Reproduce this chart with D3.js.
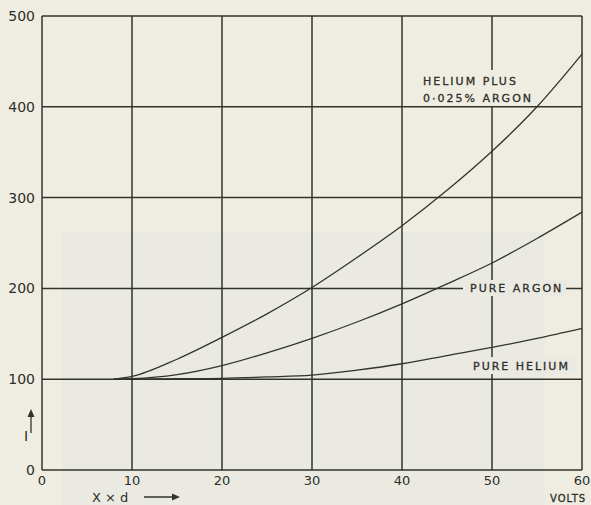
<!DOCTYPE html>
<html>
<head>
<meta charset="utf-8">
<script src="https://cdn.jsdelivr.net/npm/d3@7"></script>
<style>
  body { margin: 0; background: #efede2; }
  svg { display: block; }
  .tick-label { font-family: "DejaVu Sans", sans-serif; font-size: 14px; fill: #2e2e2a; }
  .curve-label { font-family: "DejaVu Sans", sans-serif; font-size: 11px; letter-spacing: 2px; fill: #2e2e2a; stroke: #2e2e2a; stroke-width: 0.3px; }
</style>
</head>
<body>
<div id="chart"></div>
<script>
/* CONSTANTS AND GLOBALS */
const width = 591,
  height = 505,
  margin = { top: 16, bottom: 35, left: 42, right: 9 };

const ink = "#33332e";
const paper = "#efede2";
const patch = "#eaeae2";

/* DATA */
const xValues = [8, 10, 15, 20, 25, 30, 35, 40, 45, 50, 55, 60];
const heliumArgon = [100, 103, 122, 146, 172, 201, 234, 269, 308, 351, 400, 458];
const pureArgon = [100, 100.5, 105, 115, 129, 145, 163, 183, 205, 228, 255, 284];
const pureHelium = [100, 100, 100.5, 101, 102.5, 104.5, 110, 117, 126, 135, 145, 156];

const xTicks = [0, 10, 20, 30, 40, 50, 60];
const yTicks = [0, 100, 200, 300, 400, 500];

const svg = d3.select("#chart")
  .append("svg")
  .attr("width", width)
  .attr("height", height);

svg.append("rect")
  .attr("width", width)
  .attr("height", height)
  .attr("fill", paper);

// slightly greyer patch from the scan
svg.append("rect")
  .attr("x", 62).attr("y", 232).attr("width", 483).attr("height", 273)
  .attr("fill", patch);

const xScale = d3.scaleLinear()
  .domain([0, 60])
  .range([margin.left, width - margin.right]);

const yScale = d3.scaleLinear()
  .domain([0, 500])
  .range([height - margin.bottom, margin.top]);

// grid
svg.append("g")
  .selectAll("line")
  .data(xTicks)
  .join("line")
  .attr("x1", d => xScale(d)).attr("x2", d => xScale(d))
  .attr("y1", yScale(0)).attr("y2", yScale(500))
  .attr("stroke", ink)
  .attr("stroke-width", 1.5);

svg.append("g")
  .selectAll("line")
  .data(yTicks)
  .join("line")
  .attr("x1", xScale(0)).attr("x2", xScale(60))
  .attr("y1", d => yScale(d)).attr("y2", d => yScale(d))
  .attr("stroke", ink)
  .attr("stroke-width", 1.5);

// paper behind the labels, breaking the grid lines (drawn before the curves)
svg.append("rect").attr("x", 420).attr("y", 70).attr("width", 106).attr("height", 36).attr("fill", paper);
svg.append("rect").attr("x", 463).attr("y", 280).attr("width", 103).attr("height", 16).attr("fill", patch);
svg.append("rect").attr("x", 470).attr("y", 357).attr("width", 106).attr("height", 17).attr("fill", patch);

// curves
const lineFunc = d3.line()
  .x((d, i) => xScale(xValues[i]))
  .y(d => yScale(d))
  .curve(d3.curveMonotoneX);

svg.append("g")
  .selectAll("path")
  .data([heliumArgon, pureArgon, pureHelium])
  .join("path")
  .attr("d", d => lineFunc(d))
  .attr("fill", "none")
  .attr("stroke", ink)
  .attr("stroke-width", 1.3);

const labels = [
  { text: "HELIUM PLUS", x: 423, y: 85 },
  { text: "0·025% ARGON", x: 423, y: 102 },
  { text: "PURE ARGON", x: 470, y: 292 },
  { text: "PURE HELIUM", x: 473, y: 370 }
];

svg.append("g")
  .selectAll("text")
  .data(labels)
  .join("text")
  .attr("class", "curve-label")
  .attr("x", d => d.x)
  .attr("y", d => d.y)
  .text(d => d.text);

// axis numbers
svg.append("g")
  .selectAll("text")
  .data(yTicks)
  .join("text")
  .attr("class", "tick-label")
  .attr("x", margin.left - 7)
  .attr("y", d => yScale(d) + 5)
  .attr("text-anchor", "end")
  .text(d => d);

svg.append("g")
  .selectAll("text")
  .data(xTicks)
  .join("text")
  .attr("class", "tick-label")
  .attr("x", d => xScale(d))
  .attr("y", yScale(0) + 15)
  .attr("text-anchor", "middle")
  .style("font-size", "13px")
  .text(d => d);

svg.append("text")
  .attr("class", "curve-label")
  .attr("x", 550).attr("y", 502)
  .style("font-size", "10px")
  .style("letter-spacing", "1px")
  .text("VOLTS");

// X × d  ⟶
svg.append("text")
  .attr("class", "tick-label")
  .attr("x", 92).attr("y", 502)
  .style("font-size", "13px")
  .text("X × d");

const arrow = (x1, y1, x2, y2) => {
  svg.append("line")
    .attr("x1", x1).attr("y1", y1).attr("x2", x2).attr("y2", y2)
    .attr("stroke", ink).attr("stroke-width", 1.3);
};
arrow(144, 497, 178, 497);
svg.append("path")
  .attr("d", "M180,497 L172,493.5 L172,500.5 Z")
  .attr("fill", ink);

// I with upward arrow
svg.append("text")
  .attr("class", "tick-label")
  .attr("x", 24).attr("y", 441)
  .text("I");
arrow(31, 433, 31, 412);
svg.append("path")
  .attr("d", "M31,409 L27.5,417 L34.5,417 Z")
  .attr("fill", ink);
</script>
</body>
</html>
